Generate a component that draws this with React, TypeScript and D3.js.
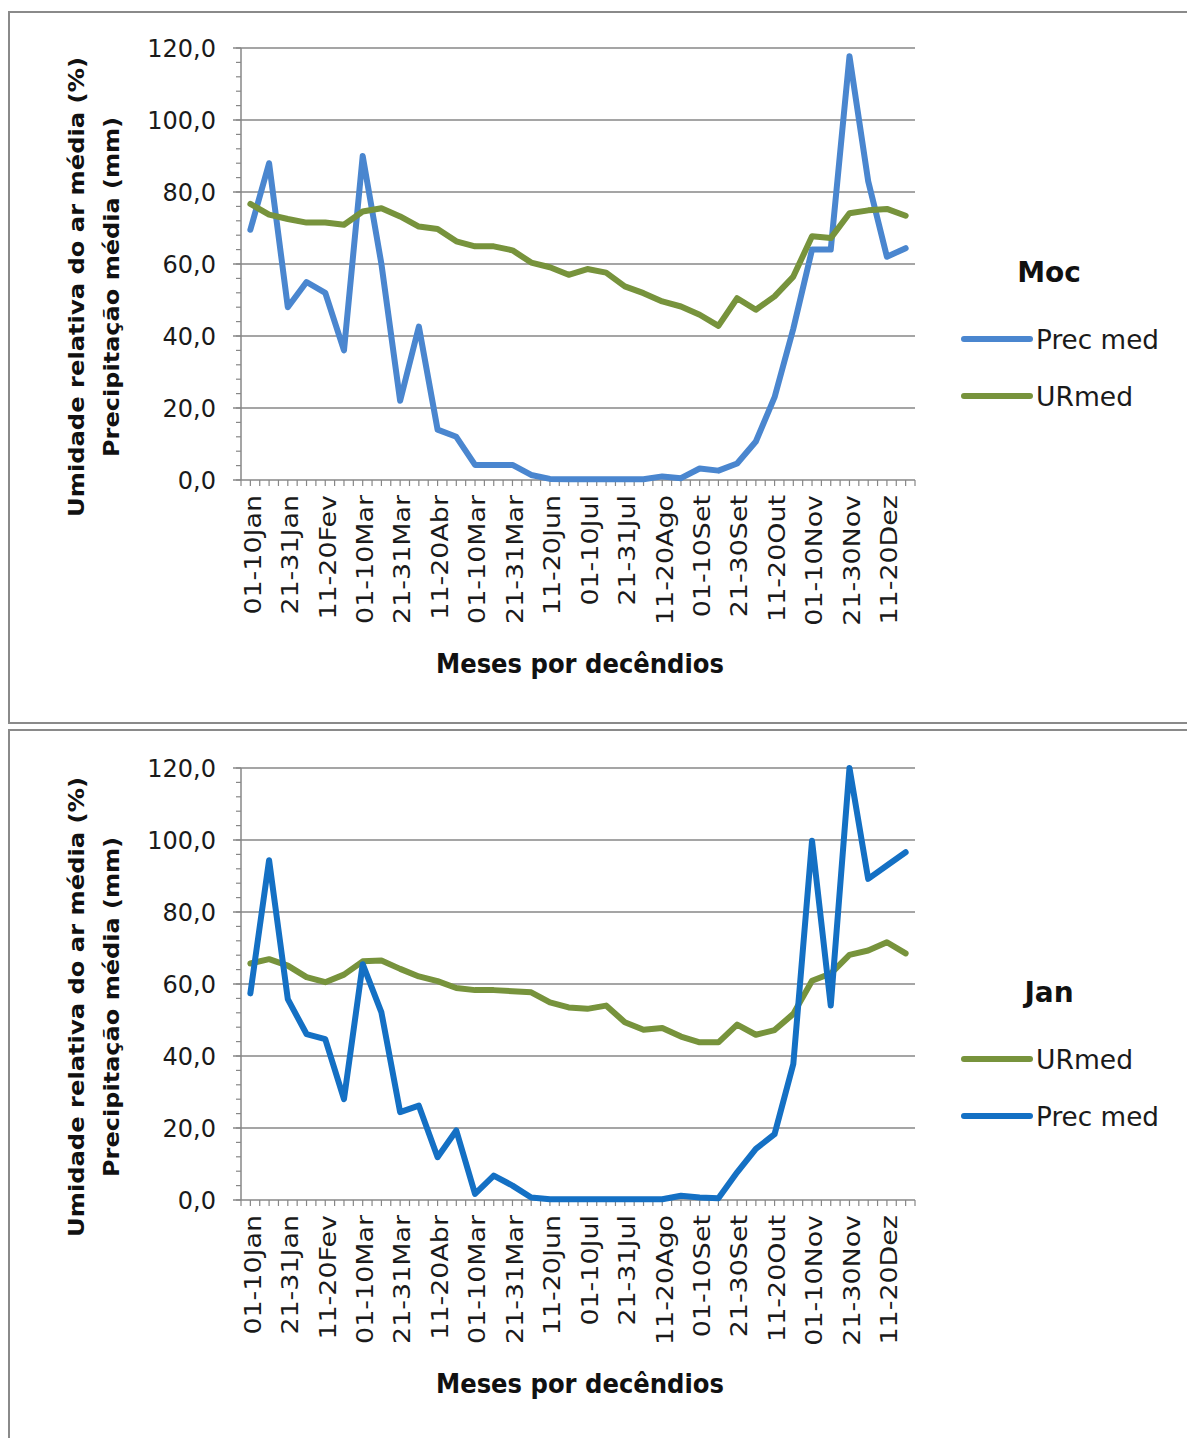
import React from "react";
import * as d3 from "d3";

const categories = [
  "01-10Jan","11-20Jan","21-31Jan","01-10Fev","11-20Fev","21-28Fev",
  "01-10Mar","11-20Mar","21-31Mar","01-10Abr","11-20Abr","21-30Abr",
  "01-10Mar","11-20Mar","21-31Mar","01-10Jun","11-20Jun","21-30Jun",
  "01-10Jul","11-20Jul","21-31Jul","01-10Ago","11-20Ago","21-31Ago",
  "01-10Set","11-20Set","21-30Set","01-10Out","11-20Out","21-31Out",
  "01-10Nov","11-20Nov","21-30Nov","01-10Dez","11-20Dez","21-31Dez",
];

const yTicks = [0, 20, 40, 60, 80, 100, 120];

const mocPrec = [69.5, 88, 48, 55, 52, 36, 90, 60, 22, 42.6, 14, 12, 4.2, 4.2, 4.2, 1.4, 0.3, 0.2, 0.2, 0.2, 0.2, 0.2, 1.0, 0.5, 3.2, 2.6, 4.6, 10.7, 23, 42, 64, 64, 117.7, 83, 62, 64.4];
const mocUR = [76.7, 73.7, 72.5, 71.5, 71.5, 70.9, 74.6, 75.5, 73.2, 70.4, 69.7, 66.3, 64.9, 64.9, 63.8, 60.4, 59.1, 57, 58.6, 57.6, 53.8, 51.9, 49.6, 48.2, 45.9, 42.8, 50.5, 47.3, 51, 56.5, 67.7, 67.2, 74.1, 74.9, 75.3, 73.4];
const janPrec = [57.4, 94.4, 55.8, 46.1, 44.7, 28, 65.5, 52.1, 24.4, 26.2, 11.9, 19.3, 1.7, 6.8, 4, 0.7, 0.2, 0.2, 0.2, 0.2, 0.2, 0.2, 0.2, 1.2, 0.7, 0.5, 7.7, 14.2, 18.3, 37.8, 99.8, 54, 120, 89.2, 92.9, 96.6];
const janUR = [65.7, 66.9, 65.1, 61.9, 60.5, 62.6, 66.3, 66.5, 64.2, 62.1, 60.8, 58.9, 58.3, 58.3, 58, 57.7, 54.9, 53.5, 53.1, 54, 49.4, 47.3, 47.8, 45.4, 43.8, 43.8, 48.7, 45.9, 47.2, 51.7, 60.9, 62.9, 68.1, 69.3, 71.6, 68.5];

const GREEN = "#77933c";
const BLUE_TOP = "#4a86cf";
const BLUE_BOT = "#1470c4";
const GRID = "#878787";
const FONT = "DejaVu Sans, sans-serif";

type Series = { name: string; values: number[]; color: string };

function Panel({ offsetY, title, series, legendOrder }: { offsetY: number; title: string; series: Series[]; legendOrder: Series[] }) {
  const x0 = 241, x1 = 915;
  const yTop = 48 + offsetY, yBot = 480 + offsetY;
  const idx = d3.range(categories.length);
  const x = d3.scaleBand<number>().domain(idx).range([x0, x1]);
  const bw = x.bandwidth();
  const cx = (i: number) => (x(i) as number) + bw / 2;
  const y = d3.scaleLinear().domain([0, 120]).range([yBot, yTop]);
  const line = d3.line<number>().x((_, i) => cx(i)).y((d) => y(d));
  const minor = d3.range(0, 121, 4);
  const halfTicks = d3.range(0, categories.length * 2 + 1).map((k) => x0 + (k * bw) / 2);

  return (
    <g>
      {yTicks.filter((t) => t > 0).map((t) => (
        <line key={"g" + t} x1={x0 - 8} x2={x1} y1={y(t)} y2={y(t)} stroke={GRID} strokeWidth={1.5} />
      ))}
      {minor.map((t) => (
        <line key={"m" + t} x1={x0 - 5} x2={x0} y1={y(t)} y2={y(t)} stroke={GRID} strokeWidth={1.2} />
      ))}
      <line x1={x0} x2={x0} y1={yTop} y2={yBot} stroke={GRID} strokeWidth={1.5} />
      <line x1={x0 - 8} x2={x1} y1={yBot} y2={yBot} stroke={GRID} strokeWidth={1.5} />
      {halfTicks.map((tx, k) => (
        <line key={"xt" + k} x1={tx} x2={tx} y1={yBot} y2={yBot + 6} stroke={GRID} strokeWidth={1.2} />
      ))}
      {yTicks.map((t) => (
        <text key={"yl" + t} x={216} y={y(t)} dy="0.36em" textAnchor="end" fontFamily={FONT} fontSize={24} fill="#1a1a1a">
          {d3.format(".1f")(t).replace(".", ",")}
        </text>
      ))}
      {idx.filter((i) => i % 2 === 0).map((i) => (
        <text key={"xl" + i} transform={`translate(${cx(i) + 2},${yBot + 15}) rotate(-90) scale(1.17,1)`} dy="0.36em" textAnchor="end" fontFamily={FONT} fontSize={23} fill="#1a1a1a">
          {categories[i]}
        </text>
      ))}
      <text transform={`translate(76,${287 + offsetY}) rotate(-90)`} dy="0.36em" textAnchor="middle" fontFamily={FONT} fontWeight="bold" fontSize={22} textLength={460} lengthAdjust="spacingAndGlyphs" fill="#111">
        Umidade relativa do ar média (%)
      </text>
      <text transform={`translate(111,${287 + offsetY}) rotate(-90)`} dy="0.36em" textAnchor="middle" fontFamily={FONT} fontWeight="bold" fontSize={22} textLength={340} lengthAdjust="spacingAndGlyphs" fill="#111">
        Precipitação média (mm)
      </text>
      <text x={580} y={673 + offsetY} textAnchor="middle" fontFamily={FONT} fontWeight="bold" fontSize={26} textLength={288} lengthAdjust="spacingAndGlyphs" fill="#111">
        Meses por decêndios
      </text>
      {series.map((s) => (
        <path key={s.name} d={line(s.values) || ""} fill="none" stroke={s.color} strokeWidth={6} strokeLinejoin="round" strokeLinecap="round" />
      ))}
      <text x={1049} y={272 + offsetY} dy="0.36em" textAnchor="middle" fontFamily={FONT} fontWeight="bold" fontSize={28} fill="#111">
        {title}
      </text>
      {legendOrder.map((s, k) => {
        const ly = 339 + k * 57 + offsetY;
        return (
          <g key={"lg" + s.name}>
            <line x1={964} x2={1030} y1={ly} y2={ly} stroke={s.color} strokeWidth={6} strokeLinecap="round" />
            <text x={1036} y={ly} dy="0.36em" fontFamily={FONT} fontSize={27} textLength={s.name === "Prec med" ? 123 : 97} lengthAdjust="spacingAndGlyphs" fill="#1a1a1a">
              {s.name}
            </text>
          </g>
        );
      })}
    </g>
  );
}

export default function App() {
  const topPrec: Series = { name: "Prec med", values: mocPrec, color: BLUE_TOP };
  const topUR: Series = { name: "URmed", values: mocUR, color: GREEN };
  const botPrec: Series = { name: "Prec med", values: janPrec, color: BLUE_BOT };
  const botUR: Series = { name: "URmed", values: janUR, color: GREEN };
  return (
    <svg width={1187} height={1438} style={{ position: "absolute", left: 0, top: 0, background: "#fff" }}>
      <rect x={0} y={0} width={1187} height={1438} fill="#fff" />
      <path d="M1187,12 H9 V723 H1187" fill="none" stroke="#8a8a8a" strokeWidth={2} />
      <path d="M1187,730 H9 V1438" fill="none" stroke="#8a8a8a" strokeWidth={2} />
      <Panel offsetY={0} title="Moc" series={[topPrec, topUR]} legendOrder={[topPrec, topUR]} />
      <Panel offsetY={720} title="Jan" series={[botUR, botPrec]} legendOrder={[botUR, botPrec]} />
    </svg>
  );
}
